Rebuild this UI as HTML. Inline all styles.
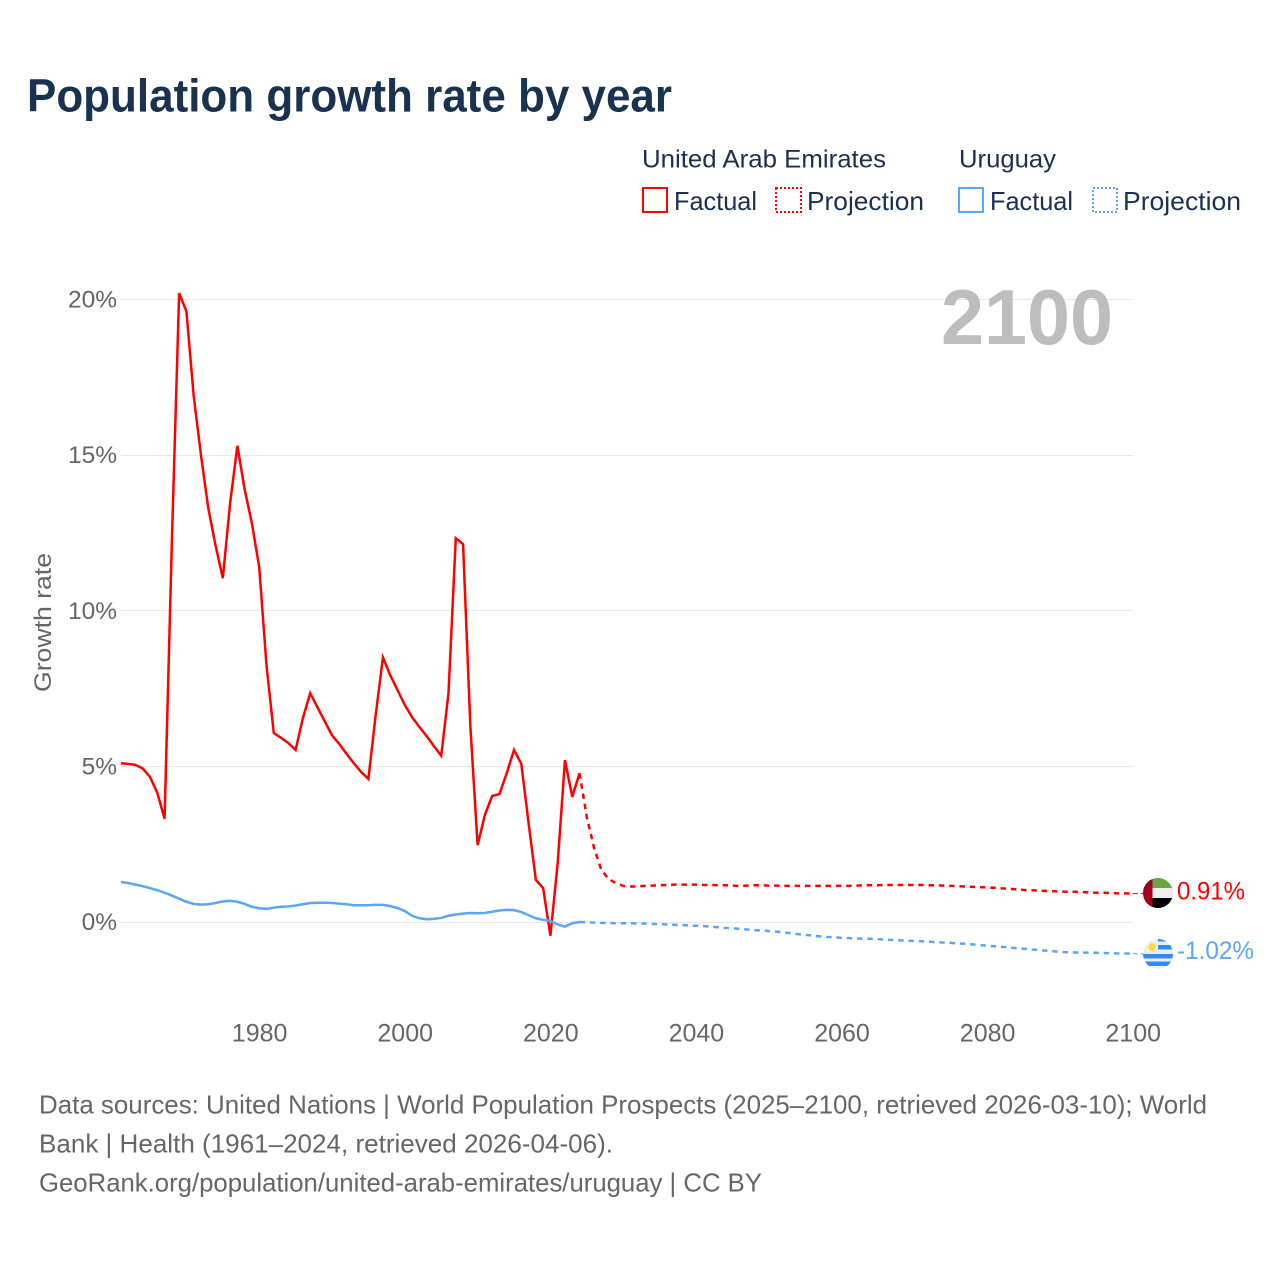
<!DOCTYPE html>
<html lang="en">
<head>
<meta charset="utf-8">
<title>Population growth rate by year</title>
<style>
html,body{margin:0;padding:0;background:#fff;width:1280px;height:1280px;overflow:hidden}
svg{display:block;font-family:"Liberation Sans",sans-serif}
</style>
</head>
<body>
<svg id="chart" xmlns="http://www.w3.org/2000/svg" width="1280" height="1280" viewBox="0 0 1280 1280">
  <rect x="0" y="0" width="1280" height="1280" fill="#ffffff"/>
  <text x="27" y="111.500" font-size="46" font-weight="700" fill="#18324f" textLength="645" lengthAdjust="spacingAndGlyphs">Population growth rate by year</text>

  <g>
    <text x="642" y="167.500" font-size="25" fill="#1a3050" textLength="244" lengthAdjust="spacingAndGlyphs">United Arab Emirates</text>
    <text x="959" y="167.500" font-size="25" fill="#1a3050" textLength="97" lengthAdjust="spacingAndGlyphs">Uruguay</text>
    <rect x="643" y="188" width="24" height="24" fill="none" stroke="#ff0000" stroke-width="2"/>
    <text x="674" y="210" font-size="26" fill="#1a3050" textLength="83" lengthAdjust="spacingAndGlyphs">Factual</text>
    <rect x="776" y="188" width="25" height="24" fill="none" stroke="#ff0000" stroke-width="2" stroke-dasharray="2 2"/>
    <text x="807" y="210" font-size="26" fill="#1a3050" textLength="117" lengthAdjust="spacingAndGlyphs">Projection</text>
    <rect x="959" y="188" width="24" height="24" fill="none" stroke="#5aa6f2" stroke-width="2"/>
    <text x="990" y="210" font-size="26" fill="#1a3050" textLength="83" lengthAdjust="spacingAndGlyphs">Factual</text>
    <rect x="1093" y="188" width="24" height="24" fill="none" stroke="#5aa6f2" stroke-width="2" stroke-dasharray="2 2"/>
    <text x="1123" y="210" font-size="26" fill="#1a3050" textLength="118" lengthAdjust="spacingAndGlyphs">Projection</text>
  </g>

  <g id="grid"></g>
  <g id="yticks"></g>
  <g id="xticks"></g>

  <text transform="translate(51,692) rotate(-90)" x="0" y="0" font-size="24.500" fill="#666666" textLength="139" lengthAdjust="spacingAndGlyphs">Growth rate</text>
  <text x="1113" y="344" text-anchor="end" font-size="78" font-weight="700" fill="#bdbdbd" textLength="172" lengthAdjust="spacingAndGlyphs">2100</text>

  <g id="series"></g>

  <defs>
    <clipPath id="uae-clip"><circle id="uae-clip-circle" cx="1158" cy="893" r="15"/></clipPath>
    <clipPath id="uy-clip"><circle id="uy-clip-circle" cx="1158" cy="954" r="15"/></clipPath>
  </defs>

  <g id="uae-flag" clip-path="url(#uae-clip)">
    <rect x="1143" y="878" width="30" height="10" fill="#6da544"/>
    <rect x="1143" y="888" width="30" height="10" fill="#eeeeee"/>
    <rect x="1143" y="898" width="30" height="10" fill="#000000"/>
    <rect x="1143" y="878" width="9.500" height="30" fill="#a2001d"/>
  </g>
  <g id="uy-flag" clip-path="url(#uy-clip)">
    <rect x="1143" y="939" width="30" height="30" fill="#eeeeee"/>
    <rect x="1158" y="938" width="15" height="3.500" fill="#338af3"/>
    <rect x="1158" y="945" width="15" height="4.500" fill="#338af3"/>
    <rect x="1143" y="954" width="30" height="4.500" fill="#338af3"/>
    <rect x="1143" y="961.500" width="30" height="4.500" fill="#338af3"/>
    <circle cx="1152" cy="947" r="3.800" fill="#ffda44"/>
  </g>
  <text x="1177" y="899.500" font-size="25" fill="#ff0000" textLength="68" lengthAdjust="spacingAndGlyphs">0.91%</text>
  <text x="1177" y="959" font-size="25" fill="#5aa6f2" textLength="77" lengthAdjust="spacingAndGlyphs">-1.02%</text>

  <g>
    <text x="39" y="1113.500" font-size="26" fill="#666666" textLength="1168" lengthAdjust="spacingAndGlyphs">Data sources: United Nations | World Population Prospects (2025–2100, retrieved 2026-03-10); World</text>
    <text x="39" y="1152.500" font-size="26" fill="#666666" textLength="574" lengthAdjust="spacingAndGlyphs">Bank | Health (1961–2024, retrieved 2026-04-06).</text>
    <text x="39" y="1191.500" font-size="26" fill="#666666" textLength="723" lengthAdjust="spacingAndGlyphs">GeoRank.org/population/united-arab-emirates/uruguay | CC BY</text>
  </g>
</svg>

<script>
const xTickYears = [1980, 2000, 2020, 2040, 2060, 2080, 2100];
const yTickValues = [0, 5, 10, 15, 20];
const factualStartYear = 1961;
const projectionStartYear = 2025;

const uaeFactual = [
  5.10, 5.08, 5.05, 4.93, 4.66, 4.15, 3.32, 12.2, 20.2, 19.62,
  16.9, 15.0, 13.3, 12.1, 11.05, 13.45, 15.3, 13.9, 12.8, 11.4,
  8.25, 6.07, 5.92, 5.75, 5.53, 6.55, 7.35, 6.9, 6.45, 6.0,
  5.72, 5.4, 5.1, 4.82, 4.6, 6.65, 8.5, 7.93, 7.45, 6.97,
  6.58, 6.27, 5.97, 5.65, 5.34, 7.35, 12.33, 12.14, 6.3, 2.47,
  3.44, 4.05, 4.11, 4.78, 5.53, 5.08, 3.18, 1.35, 1.09, -0.44,
  1.9, 5.2, 4.02, 4.78
];
const uaeProjection = [
  3.37, 2.38, 1.67, 1.38, 1.25, 1.16, 1.14, 1.14, 1.16, 1.17,
  1.18, 1.19, 1.2, 1.2, 1.2, 1.2, 1.19, 1.19, 1.18, 1.18,
  1.17, 1.16, 1.17, 1.18, 1.18, 1.17, 1.17, 1.16, 1.16, 1.16,
  1.16, 1.16, 1.16, 1.16, 1.16, 1.16, 1.16, 1.17, 1.18, 1.18,
  1.18, 1.19, 1.19, 1.19, 1.19, 1.19, 1.19, 1.18, 1.18, 1.17,
  1.16, 1.15, 1.14, 1.13, 1.12, 1.11, 1.1, 1.08, 1.07, 1.05,
  1.03, 1.02, 1.01, 1.0, 0.99, 0.98, 0.97, 0.97, 0.96, 0.95,
  0.94, 0.94, 0.93, 0.92, 0.92, 0.91
];
const uruguayFactual = [
  1.29, 1.25, 1.2, 1.15, 1.09, 1.02, 0.94, 0.85, 0.75, 0.65,
  0.58, 0.56, 0.57, 0.61, 0.66, 0.68, 0.65, 0.58, 0.49, 0.44,
  0.42, 0.46, 0.49, 0.5, 0.53, 0.57, 0.61, 0.62, 0.62, 0.61,
  0.59, 0.57, 0.54, 0.54, 0.54, 0.55, 0.55, 0.51, 0.45, 0.35,
  0.2, 0.12, 0.09, 0.1, 0.13, 0.2, 0.24, 0.27, 0.29, 0.28,
  0.29, 0.33, 0.37, 0.39, 0.38, 0.32, 0.22, 0.12, 0.07, 0.03,
  -0.08, -0.15, -0.04, 0.0
];
const uruguayProjection = [
  -0.01, -0.02, -0.03, -0.03, -0.04, -0.04, -0.04, -0.05, -0.05, -0.06,
  -0.07, -0.08, -0.09, -0.1, -0.11, -0.12, -0.13, -0.15, -0.17, -0.19,
  -0.2, -0.22, -0.24, -0.26, -0.27, -0.29, -0.31, -0.33, -0.36, -0.39,
  -0.41, -0.44, -0.46, -0.48, -0.49, -0.51, -0.52, -0.53, -0.54, -0.54,
  -0.55, -0.57, -0.58, -0.59, -0.6, -0.61, -0.62, -0.63, -0.65, -0.66,
  -0.67, -0.69, -0.7, -0.72, -0.74, -0.76, -0.78, -0.8, -0.82, -0.84,
  -0.86, -0.88, -0.9, -0.92, -0.94, -0.96, -0.97, -0.98, -0.98, -0.99,
  -0.99, -1.0, -1.0, -1.01, -1.01, -1.02
];

const NS = 'http://www.w3.org/2000/svg';
const xScale = function (year) { return 120.9 + (year - 1961) * 7.28; };
const yScale = function (value) { return 922 - value * 31.125; };

function make(tag, attrs, parent) {
  const el = document.createElementNS(NS, tag);
  Object.keys(attrs).forEach(function (k) { el.setAttribute(k, attrs[k]); });
  parent.appendChild(el);
  return el;
}

const gridGroup = document.getElementById('grid');
const yTickGroup = document.getElementById('yticks');
const xTickGroup = document.getElementById('xticks');
const seriesGroup = document.getElementById('series');

yTickValues.forEach(function (v) {
  const y = Math.floor(yScale(v)) + 0.5;
  const line = make('line', { x1: 121, x2: 1133, y1: y, y2: y, stroke: '#e8e8e8', 'stroke-width': 1 }, gridGroup);
  
  
  const label = make('text', { x: 117, y: yScale(v) + 8, 'text-anchor': 'end', 'font-size': 24.5, fill: '#666666' }, yTickGroup);
  label.textContent = v + '%';
  
  
});

xTickYears.forEach(function (yr) {
  const label = make('text', { x: xScale(yr) + 0.4, y: 1041.5, 'text-anchor': 'middle', 'font-size': 25, fill: '#666666' }, xTickGroup);
  label.textContent = String(yr);
  
  
});

function pathFrom(values, startYear) {
  return values.map(function (v, i) {
    return (i ? 'L' : 'M') + xScale(startYear + i).toFixed(2) + ' ' + yScale(v).toFixed(2);
  }).join(' ');
}

function drawSeries(name, color, factual, projection) {
  const lastFactual = factual[factual.length - 1];
  const lastProjection = projection[projection.length - 1];
  const projPath = make('path', {
    d: pathFrom([lastFactual].concat(projection), projectionStartYear - 1),
    fill: 'none', stroke: color, 'stroke-width': 2.5, 'stroke-dasharray': '5.500 4.800', 'stroke-linejoin': 'round'
  }, seriesGroup);
  
  
  const factPath = make('path', {
    d: pathFrom(factual, factualStartYear),
    fill: 'none', stroke: color, 'stroke-width': 2.5, 'stroke-linejoin': 'miter'
  }, seriesGroup);
  
  
  const connector = make('line', {
    x1: xScale(2100), x2: 1143, y1: yScale(lastProjection), y2: yScale(lastProjection),
    stroke: color, 'stroke-width': 1, 'stroke-dasharray': '5 3'
  }, seriesGroup);
  
  
}

drawSeries('uae', '#ff0000', uaeFactual, uaeProjection);
drawSeries('uruguay', '#5aa6f2', uruguayFactual, uruguayProjection);
</script>
</body>
</html>
